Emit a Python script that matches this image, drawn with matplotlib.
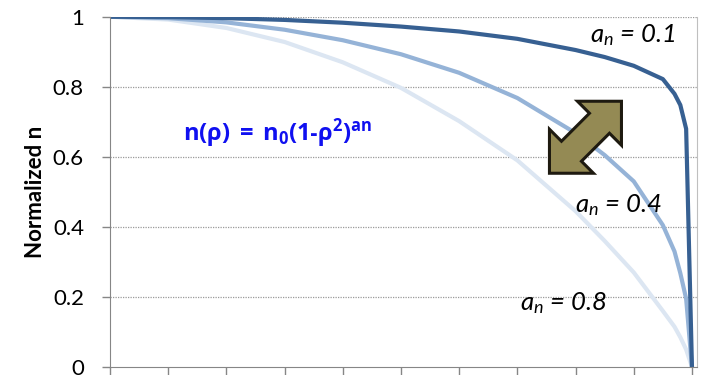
import matplotlib
matplotlib.use("Agg")
import matplotlib.pyplot as plt
from matplotlib.patches import Polygon
from matplotlib.transforms import ScaledTranslation

plt.rcParams['font.family'] = ['Lato', 'DejaVu Sans']
plt.rcParams['mathtext.fontset'] = 'custom'
plt.rcParams['mathtext.rm'] = 'Lato'
plt.rcParams['mathtext.it'] = 'Lato:italic'
plt.rcParams['mathtext.bf'] = 'Open Sans:bold'

# normalized radius and index profiles for the three exponents
rho = [0, 0.1, 0.2, 0.3, 0.4, 0.5, 0.6, 0.7, 0.8, 0.85, 0.9, 0.95, 0.97, 0.98, 0.99, 1.0]
n_01 = [1.0, 0.999, 0.996, 0.991, 0.983, 0.972, 0.958, 0.937, 0.905, 0.885, 0.860,
        0.822, 0.780, 0.748, 0.680, 0.0]
n_04 = [1.0, 0.996, 0.984, 0.963, 0.933, 0.893, 0.840, 0.768, 0.668, 0.605, 0.530,
        0.405, 0.330, 0.268, 0.195, 0.0]
n_08 = [1.0, 0.992, 0.968, 0.928, 0.870, 0.797, 0.702, 0.590, 0.445, 0.360, 0.270,
        0.160, 0.115, 0.085, 0.050, 0.0]

curve_labels = [r'$\mathit{a_n}$ = 0.1', r'$\mathit{a_n}$ = 0.4', r'$\mathit{a_n}$ = 0.8']
yticks = [0, 0.2, 0.4, 0.6, 0.8, 1.0]
ytick_labels = ['0', '0.2', '0.4', '0.6', '0.8', '1']
xticks = [0, 0.1, 0.2, 0.3, 0.4, 0.5, 0.6, 0.7, 0.8, 0.9, 1.0]

fig = plt.figure(figsize=(7.06, 3.75), dpi=100)
ax = fig.add_axes([0.1558, 0.0213, 0.8314, 0.934])

ax.plot(rho, n_08, color='#DCE6F2', lw=3, solid_joinstyle='round')
ax.plot(rho, n_04, color='#95B3D7', lw=3, solid_joinstyle='round')
ax.plot(rho, n_01, color='#376092', lw=3, solid_joinstyle='round')

ax.set_xlim(0, 1.0086)
ax.set_ylim(0, 1)
ax.set_xticks(xticks)
ax.set_xticklabels([])
ax.set_yticks(yticks)
ax.set_yticklabels(ytick_labels, fontsize=16)
ax.tick_params(axis='both', direction='out', length=5.8, color='#868686', width=1)
ax.tick_params(axis='y', pad=13)

for y in yticks[1:]:
    ax.axhline(y, color='#9A9A9A', lw=0.9, ls=(0, (1, 1)), zorder=0)

ax.spines['top'].set_visible(False)
ax.spines['left'].set_color('#868686')
ax.spines['bottom'].set_color('#868686')
ax.spines['right'].set_color('#BFBFBF')

ax.set_ylabel('Normalized n', fontsize=16, fontweight='bold', labelpad=5)

ax.text(0.125, 0.668, '$\\mathbf{n(\\rho)\\ =\\ n_0(1\u2010\\rho^2)^{an}}$',
        color='#1010F0', fontsize=17, ha='left', va='center')

ax.text(0.825, 0.947, curve_labels[0], fontsize=18.5, style='italic', va='center')
ax.text(0.799, 0.462, curve_labels[1], fontsize=18.5, style='italic', va='center')
ax.text(0.704, 0.183, curve_labels[2], fontsize=18.5, style='italic', va='center')

# double-headed block arrow, outline given in pixels around its centre
shape_px = [(36, 36), (-8, 36), (4, 24), (-24, -4), (-36, 8), (-36, -36),
            (8, -36), (-4, -24), (24, 4), (36, -8)]
verts = [(x / 100, y / 100) for x, y in shape_px]
trans = fig.dpi_scale_trans + ScaledTranslation(0.817, 0.656, ax.transData)
ax.add_patch(Polygon(verts, closed=True, transform=trans, facecolor='#948A54',
                     edgecolor='#1E1A10', lw=2.2, joinstyle='miter', zorder=5))

fig.savefig('out.png', dpi=100)
